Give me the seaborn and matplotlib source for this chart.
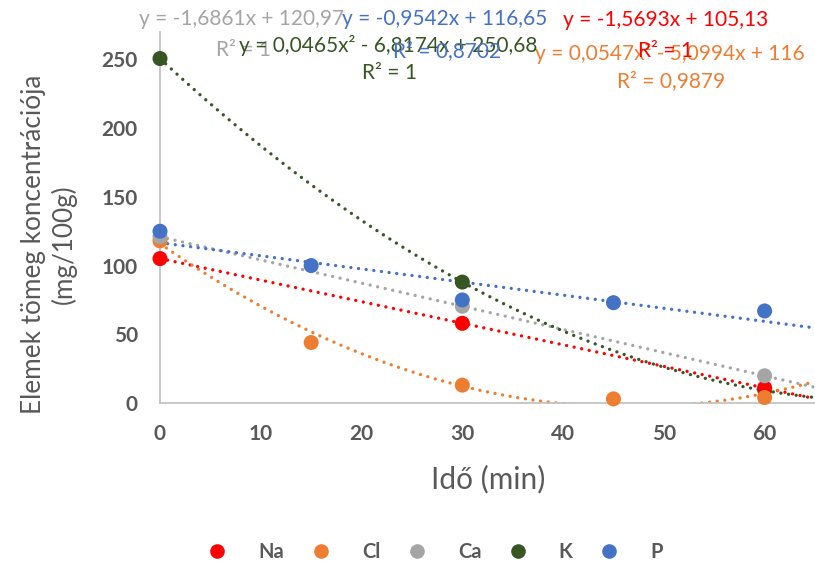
import numpy as np
import pandas as pd
import matplotlib
matplotlib.use("Agg")
import matplotlib.pyplot as plt
import seaborn as sns
from matplotlib.lines import Line2D

# Measured concentrations (mg/100g) over time (min)
elements = ["Na", "Cl", "Ca", "K", "P"]
colors = ["#FF0000", "#ED7D31", "#A5A5A5", "#375623", "#4472C4"]

na_time = [0, 30, 60]
na_conc = [105.1, 58.0, 11.0]
cl_time = [0, 15, 30, 45, 60]
cl_conc = [118, 44, 13, 3, 4]
ca_time = [0, 30, 60]
ca_conc = [121.0, 70.4, 19.8]
k_time = [0, 30, 60]
k_conc = [250.7, 88.0, 9.7]
p_time = [0, 15, 30, 45, 60]
p_conc = [125, 100, 75, 73, 67]

# Trendline coefficients (highest power first) and their R² values
na_fit = [-1.5693, 105.13]
cl_fit = [0.0547, -5.0994, 116]
ca_fit = [-1.6861, 120.97]
k_fit = [0.0465, -6.8174, 250.68]
p_fit = [-0.9542, 116.65]
r_squared = [1, 0.9879, 1, 1, 0.8702]

x_label = "Idő (min)"
y_label = "Elemek tömeg koncentrációja\n(mg/100g)"
x_ticks = [0, 10, 20, 30, 40, 50, 60]
y_ticks = [0, 50, 100, 150, 200, 250]

series = {
    "Na": (na_time, na_conc, na_fit),
    "Cl": (cl_time, cl_conc, cl_fit),
    "Ca": (ca_time, ca_conc, ca_fit),
    "K": (k_time, k_conc, k_fit),
    "P": (p_time, p_conc, p_fit),
}
palette = dict(zip(elements, colors))

sns.set_style("white")
plt.rcParams["font.family"] = ["Lato", "DejaVu Sans"]

W, H = 815, 562
fig = plt.figure(figsize=(W / 100, H / 100), dpi=100)
ax = fig.add_axes([160 / W, (H - 403) / H, (W - 160) / W, (403 - 32) / H])

# points: potassium drawn first so the sodium marker sits above it at 60 min
draw_order = ["K", "Na", "Cl", "Ca", "P"]
rows = []
for el in draw_order:
    t, c, _ = series[el]
    rows += [{"time": ti, "conc": ci, "element": el} for ti, ci in zip(t, c)]
df = pd.DataFrame(rows)

# dotted polynomial trendlines
xs = np.linspace(0, 65, 300)
for el in elements:
    fit = series[el][2]
    ax.plot(xs, np.polyval(fit, xs), color=palette[el], lw=2.4,
            linestyle=(0, (0.01, 2.3)), dash_capstyle="round", zorder=2)

sns.scatterplot(data=df, x="time", y="conc", hue="element", hue_order=elements,
                palette=palette, s=117, linewidth=0, legend=False, ax=ax,
                zorder=3, clip_on=False)

ax.set_xlim(0, 65)
ax.set_ylim(0, 270)
ax.set_xticks(x_ticks)
ax.set_yticks(y_ticks)
ax.set_xlabel("")
ax.set_ylabel("")
for s in ["top", "right"]:
    ax.spines[s].set_visible(False)
for s in ["left", "bottom"]:
    ax.spines[s].set_color("#BFBFBF")
    ax.spines[s].set_linewidth(1.2)
ax.tick_params(axis="both", length=0, labelsize=15, labelcolor="#595959")
ax.tick_params(axis="y", pad=16)
ax.tick_params(axis="x", pad=15)
for lab in ax.get_xticklabels() + ax.get_yticklabels():
    lab.set_fontweight("bold")

fig.text(488 / W, 1 - 479 / H, x_label, ha="center", va="center",
         fontsize=21.5, color="#595959")
fig.text(49 / W, 1 - 244 / H, y_label, ha="center", va="center",
         rotation=90, fontsize=18.8, color="#595959", linespacing=1.22)


def num(v):
    return f"{v:.5g}".replace(".", ",")


def equation(coefs):
    deg = len(coefs) - 1
    parts = []
    for i, c in enumerate(coefs):
        p = deg - i
        term = num(abs(c)) + ("x²" if p == 2 else "x" if p == 1 else "")
        if i == 0:
            parts.append(("-" if c < 0 else "") + term)
        else:
            parts.append(("- " if c < 0 else "+ ") + term)
    return "y = " + " ".join(parts)


# trendline label anchors (pixel centres): equation, R²
label_pos = {
    "Cl": ((670, 53), (671, 81)),
    "Na": ((666, 20), (666, 51)),
    "Ca": ((242, 19), (243, 50)),
    "K": ((388, 46), (390, 73)),
    "P": ((445, 19), (447, 51)),
}
r2 = dict(zip(elements, r_squared))
for el in ["Cl", "Na", "Ca", "K", "P"]:
    (ex, ey), (rx, ry) = label_pos[el]
    fig.text(ex / W, 1 - ey / H, equation(series[el][2]), ha="center",
             va="center", fontsize=15, color=palette[el])
    fig.text(rx / W, 1 - ry / H, "R² = " + num(r2[el]), ha="center",
             va="center", fontsize=15, color=palette[el])

handles = [Line2D([], [], linestyle="none", marker="o", markersize=10.5,
                  markerfacecolor=palette[el], markeredgewidth=0)
           for el in elements]
leg = fig.legend(handles, elements, loc="center",
                 bbox_to_anchor=(435 / W, 1 - 552 / H), ncol=5, frameon=False,
                 handlelength=1.0, handletextpad=1.55, columnspacing=1.3,
                 prop={"size": 14.5, "weight": "bold"})
for t in leg.get_texts():
    t.set_color("#595959")

fig.savefig("out.png", dpi=100)
